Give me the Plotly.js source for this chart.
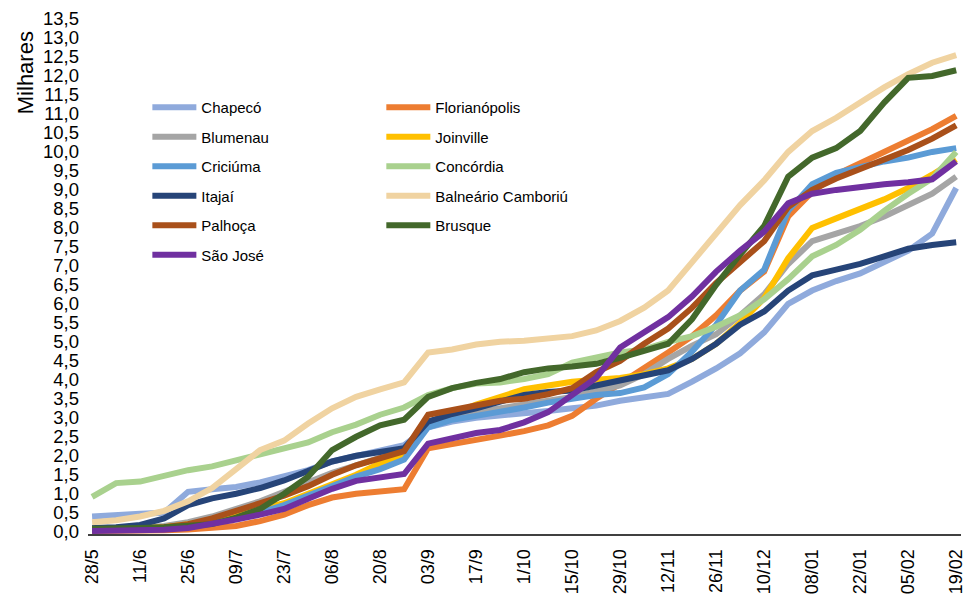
<!DOCTYPE html>
<html>
<head>
<meta charset="utf-8">
<script src="https://cdn.plot.ly/plotly-3.0.1.min.js"></script>
<style>
  html, body { margin: 0; padding: 0; background: #ffffff; }
  #chart { width: 963px; height: 616px; }
</style>
</head>
<body>
<div id="chart"></div>
<script>
// Weekly reporting dates (category axis); every second one is labelled
const dates = ["28/5", "04/6", "11/6", "18/6", "25/6", "02/7", "09/7", "16/7", "23/7", "30/7",
  "06/8", "13/8", "20/8", "27/8", "03/9", "10/9", "17/9", "24/9", "1/10", "8/10",
  "15/10", "22/10", "29/10", "5/11", "12/11", "19/11", "26/11", "3/12", "10/12", "24/12",
  "08/01", "15/01", "22/01", "29/01", "05/02", "12/02", "19/02"];
const tickLabels = ["28/5", "11/6", "25/6", "09/7", "23/7", "06/8", "20/8", "03/9", "17/9", "1/10",
  "15/10", "29/10", "12/11", "26/11", "10/12", "08/01", "22/01", "05/02", "19/02"];

// Cumulative values per city (thousands)
const chapeco = [0.40, 0.45, 0.47, 0.50, 1.05, 1.12, 1.18, 1.30, 1.45, 1.62, 1.85, 2.00, 2.15, 2.28, 2.75, 2.90, 3.00, 3.05, 3.10, 3.18, 3.25, 3.32, 3.45, 3.55, 3.63, 3.95, 4.30, 4.70, 5.25, 6.00, 6.35, 6.60, 6.80, 7.10, 7.40, 7.85, 9.05];
const florianopolis = [0.02, 0.02, 0.03, 0.04, 0.06, 0.10, 0.15, 0.28, 0.45, 0.70, 0.90, 1.00, 1.07, 1.12, 2.20, 2.30, 2.42, 2.53, 2.65, 2.80, 3.05, 3.50, 3.90, 4.30, 4.72, 5.15, 5.70, 6.35, 6.85, 8.30, 8.95, 9.40, 9.70, 10.00, 10.30, 10.60, 10.95];
const blumenau = [0.05, 0.07, 0.10, 0.15, 0.25, 0.40, 0.60, 0.80, 1.05, 1.30, 1.55, 1.75, 1.95, 2.10, 2.90, 3.05, 3.15, 3.25, 3.35, 3.45, 3.55, 3.70, 3.85, 4.15, 4.55, 4.90, 5.20, 5.70, 6.25, 7.05, 7.65, 7.85, 8.05, 8.30, 8.60, 8.90, 9.35];
const joinville = [0.03, 0.05, 0.08, 0.12, 0.20, 0.30, 0.45, 0.60, 0.75, 1.00, 1.25, 1.50, 1.80, 2.00, 2.80, 3.10, 3.35, 3.55, 3.75, 3.85, 3.95, 4.00, 4.05, 4.15, 4.30, 4.55, 4.95, 5.50, 6.15, 7.20, 8.00, 8.25, 8.50, 8.75, 9.05, 9.40, 9.80];
const criciuma = [0.05, 0.06, 0.08, 0.10, 0.15, 0.22, 0.35, 0.50, 0.70, 0.95, 1.20, 1.45, 1.65, 1.90, 2.75, 2.95, 3.05, 3.15, 3.27, 3.40, 3.50, 3.60, 3.65, 3.80, 4.15, 4.75, 5.45, 6.35, 6.90, 8.45, 9.15, 9.45, 9.60, 9.75, 9.85, 10.00, 10.10];
const concordia = [0.92, 1.28, 1.32, 1.48, 1.62, 1.72, 1.88, 2.05, 2.22, 2.35, 2.62, 2.82, 3.08, 3.27, 3.60, 3.78, 3.90, 3.93, 4.02, 4.15, 4.45, 4.60, 4.72, 4.80, 5.00, 5.15, 5.40, 5.70, 6.12, 6.65, 7.25, 7.55, 7.95, 8.45, 8.90, 9.30, 10.00];
const itajai = [0.10, 0.12, 0.18, 0.35, 0.70, 0.88, 1.00, 1.15, 1.35, 1.60, 1.85, 2.00, 2.12, 2.20, 2.90, 3.10, 3.25, 3.42, 3.60, 3.68, 3.72, 3.85, 3.97, 4.10, 4.25, 4.55, 4.95, 5.45, 5.80, 6.35, 6.75, 6.90, 7.05, 7.25, 7.45, 7.55, 7.62];
const balneario = [0.25, 0.30, 0.40, 0.55, 0.80, 1.15, 1.65, 2.15, 2.40, 2.85, 3.25, 3.55, 3.75, 3.93, 4.72, 4.80, 4.93, 5.00, 5.03, 5.10, 5.15, 5.30, 5.55, 5.90, 6.35, 7.10, 7.85, 8.60, 9.25, 10.00, 10.55, 10.90, 11.30, 11.70, 12.05, 12.35, 12.55];
const palhoca = [0.05, 0.05, 0.08, 0.12, 0.20, 0.35, 0.55, 0.75, 0.95, 1.20, 1.50, 1.75, 1.95, 2.12, 3.08, 3.20, 3.30, 3.45, 3.50, 3.62, 3.78, 4.20, 4.50, 4.95, 5.35, 5.90, 6.55, 7.10, 7.65, 8.55, 9.00, 9.30, 9.55, 9.80, 10.05, 10.35, 10.70];
const brusque = [0.08, 0.08, 0.10, 0.12, 0.15, 0.20, 0.37, 0.60, 1.00, 1.45, 2.15, 2.50, 2.80, 2.95, 3.55, 3.78, 3.92, 4.02, 4.20, 4.30, 4.35, 4.42, 4.58, 4.76, 4.95, 5.60, 6.50, 7.30, 8.05, 9.35, 9.85, 10.10, 10.55, 11.30, 11.95, 12.00, 12.15];
const saoJose = [0.02, 0.02, 0.03, 0.05, 0.10, 0.20, 0.32, 0.45, 0.60, 0.87, 1.13, 1.34, 1.42, 1.52, 2.32, 2.47, 2.60, 2.68, 2.88, 3.15, 3.60, 4.05, 4.85, 5.25, 5.65, 6.20, 6.85, 7.40, 7.90, 8.65, 8.90, 9.00, 9.08, 9.15, 9.20, 9.28, 9.75];

const x = dates.map((_, i) => i);
const tickVals = tickLabels.map(t => dates.indexOf(t));

// [name, values, colour, legend column]
const series = [
  ["Chapecó", chapeco, "#8FAADC", "legend"],
  ["Florianópolis", florianopolis, "#ED7D31", "legend2"],
  ["Blumenau", blumenau, "#A5A5A5", "legend"],
  ["Joinville", joinville, "#FFC000", "legend2"],
  ["Criciúma", criciuma, "#5B9BD5", "legend"],
  ["Concórdia", concordia, "#A9D18E", "legend2"],
  ["Itajaí", itajai, "#264478", "legend"],
  ["Balneário Camboriú", balneario, "#F0D3A1", "legend2"],
  ["Palhoça", palhoca, "#A9501A", "legend"],
  ["Brusque", brusque, "#43682B", "legend2"],
  ["São José", saoJose, "#7030A0", "legend"]
];

const traces = series.map(([name, y, color, leg]) => ({
  type: "scatter",
  mode: "lines",
  name: name,
  x: x,
  y: y,
  legend: leg,
  legendgroup: name,
  line: { color: color, width: 6, shape: "linear" },
  hoverinfo: "skip"
}));

const baseFont = { family: "Liberation Sans, Arial, sans-serif", color: "#000000" };
const legendCommon = {
  bgcolor: "rgba(0,0,0,0)",
  font: Object.assign({}, baseFont, { size: 15 }),
  tracegroupgap: 7,
  itemwidth: 44,
  xanchor: "left",
  yanchor: "top",
  traceorder: "grouped"
};

const layout = {
  width: 963,
  height: 616,
  paper_bgcolor: "#ffffff",
  plot_bgcolor: "#ffffff",
  margin: { l: 88, r: 2, t: 19, b: 82 },
  separators: ",.",
  showlegend: true,
  xaxis: {
    range: [-0.17, 36.2],
    tickmode: "array",
    tickvals: tickVals,
    ticktext: tickLabels,
    tickangle: -90,
    ticks: "",
    showgrid: false,
    zeroline: false,
    showline: true,
    linecolor: "#404040",
    linewidth: 2,
    ticklabelstandoff: 6,
    ticklabeloverflow: "allow",
    tickfont: Object.assign({}, baseFont, { size: 18 })
  },
  yaxis: {
    range: [-0.06, 13.5],
    tick0: 0,
    dtick: 0.5,
    tickformat: ".1f",
    ticks: "",
    showgrid: false,
    zeroline: false,
    showline: false,
    ticklabelstandoff: 8,
    tickfont: Object.assign({}, baseFont, { size: 18.5 })
  },
  legend: Object.assign({}, legendCommon, { x: 0.068, y: 0.86 }),
  legend2: Object.assign({}, legendCommon, { x: 0.336, y: 0.86 }),
  annotations: [{
    text: "Milhares",
    xref: "paper", yref: "paper",
    x: -0.072, y: 0.895,
    xanchor: "center", yanchor: "middle",
    showarrow: false,
    textangle: -90,
    font: Object.assign({}, baseFont, { size: 22 })
  }]
};

Plotly.newPlot("chart", traces, layout, { displayModeBar: false, staticPlot: true });
</script>
</body>
</html>
